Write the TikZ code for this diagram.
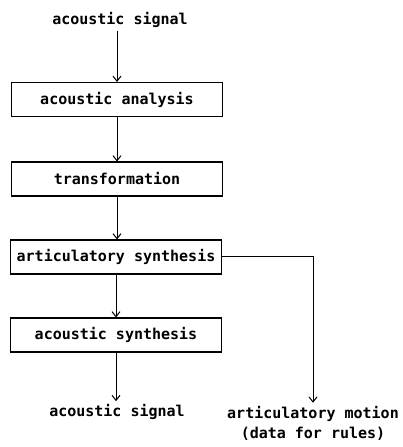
\documentclass[tikz,border=0pt]{standalone}
\usepackage{fontspec}
\setmonofont{DejaVu Sans Mono}
\usetikzlibrary{arrows.meta,positioning}
\tikzset{
    stagebox/.style={draw, line width=1.1pt, minimum width=211pt, minimum height=34pt, inner sep=0pt},
    plainlabel/.style={inner sep=3pt},
    flow/.style={line width=1pt, -{Straight Barb[length=5pt,width=8pt]}}
}
\begin{document}
\begin{tikzpicture}[font=\ttfamily\bfseries\fontsize{15}{20}\selectfont, x=1pt, y=1pt]
    \useasboundingbox (0,0) rectangle (402,447);
    \node[plainlabel] (insig) at (120,427) {acoustic signal};
    \node[stagebox] (analysis) at (117,347.5) {acoustic analysis};
    \node[stagebox] (transf) at (117,268) {transformation};
    \node[stagebox] (artsyn) at (116,190) {articulatory synthesis};
    \node[stagebox] (acsyn) at (116,112) {acoustic synthesis};
    \node[plainlabel] (outsig) at (117,35) {acoustic signal};
    \node[plainlabel, align=center] (motion) at (313,24) {articulatory motion\\(data for rules)};
    % main chain
    \draw[flow] (insig.south -| analysis.north) -- (analysis.north);
    \draw[flow] (analysis.south) -- (transf.north);
    \draw[flow] (transf.south) -- (transf.south |- artsyn.north);
    \draw[flow] (artsyn.south) -- (acsyn.north);
    \draw[flow] (acsyn.south) -- (acsyn.south |- outsig.north);
    % side branch
    \draw[flow] (artsyn.east) -| (motion.north);
\end{tikzpicture}
\end{document}
